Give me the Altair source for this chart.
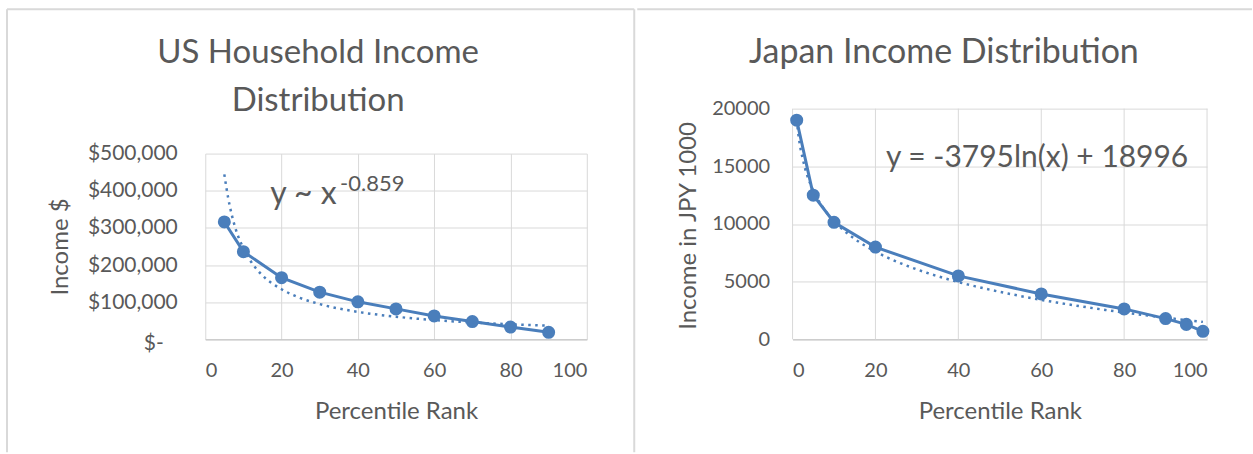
import altair as alt
import pandas as pd

# ---------------- data ----------------
us_pct = [5, 10, 20, 30, 40, 50, 60, 70, 80, 90]
us_income = [316000, 236000, 166000, 127000, 101000, 82000, 63000, 48000, 33000, 19000]

# dotted power trend line (y ~ x^-0.859)
us_trend_pct = [5, 6, 7, 8, 10, 12, 15, 20, 25, 30, 40, 50, 60, 70, 80, 90]
us_trend_income = [444000, 381000, 333000, 296000, 245000, 209000, 172000, 135000,
                   111000, 95000, 74000, 61000, 52000, 45500, 40500, 36700]

jp_pct = [1, 5, 10, 20, 40, 60, 80, 90, 95, 99]
jp_income = [19000, 12500, 10150, 8000, 5500, 3940, 2640, 1800, 1300, 700]

us_ticks_x = [0, 20, 40, 60, 80, 100]
us_ticks_y = [0, 100000, 200000, 300000, 400000, 500000]
jp_ticks_x = [0, 20, 40, 60, 80, 100]
jp_ticks_y = [0, 5000, 10000, 15000, 20000]

us_title = ["US Household Income", "Distribution"]
jp_title = "Japan Income Distribution"
us_eq_main = "y ~ x"
us_eq_sup = "-0.859"
jp_eq = "y = -3795ln(x) + 18996"

# ---------------- styling ----------------
BLUE = "#4A7EBB"
TEXT = "#595959"
GRID = "#D9D9D9"
FRAME = "#D9D9D9"
FONT = "Lato"

W1, H1 = 382, 186
W2 = 415
JP_TOP = -45  # Japan plot area starts 45px above the US plot area

us_df = pd.DataFrame({"pct": us_pct, "income": us_income})
us_tr = pd.DataFrame({"pct": us_trend_pct, "income": us_trend_income})
jp_df = pd.DataFrame({"pct": jp_pct, "income": jp_income})
jp_grid = pd.DataFrame({"pct": jp_ticks_x})
one = pd.DataFrame({"k": [0]})


def xaxis(vals, grid=True):
    return alt.Axis(values=vals, title="Percentile Rank", grid=grid, ticks=False, tickSize=0,
                    labelPadding=37, labelBaseline="alphabetic", domainColor="#BFBFBF",
                    domainWidth=1, labelOverlap=False,
                    titleBaseline="alphabetic", titleY=79)


# ---------------- US panel ----------------
ux = alt.X("pct:Q", scale=alt.Scale(domain=[0, 100], nice=False), axis=xaxis(us_ticks_x))
uy = alt.Y("income:Q", scale=alt.Scale(domain=[0, 500000], nice=False),
           axis=alt.Axis(values=us_ticks_y, title="Income $", grid=True, ticks=False, tickSize=0,
                         domain=False, labelOverlap=False, labelFontSize=21,
                         labelPadding={"condition": {"test": "datum.value === 0", "value": 42}, "value": 28},
                         labelOffset={"condition": {"test": "datum.value === 0", "value": 4}, "value": 0},
                         labelExpr="datum.value == 0 ? '$-' : '$' + format(datum.value, ',')",
                         titleAngle=-90, titleBaseline="alphabetic", titleX=-138, titleY=93))

us_line = alt.Chart(us_df).mark_line(color=BLUE, strokeWidth=3).encode(x=ux, y=uy)
us_pts = alt.Chart(us_df).mark_circle(color=BLUE, size=170, opacity=1).encode(x=ux, y=uy)
us_trend = alt.Chart(us_tr).mark_line(color=BLUE, strokeWidth=2.5, strokeDash=[2.5, 4.5],
                                      interpolate="monotone").encode(x=ux, y=uy)

us_t = alt.Chart(one).mark_text(text=us_title, font=FONT, fontSize=33, color=TEXT, align="center",
                                baseline="alphabetic", lineHeight=48).encode(x=alt.value(113), y=alt.value(-91))
us_e1 = alt.Chart(one).mark_text(text=us_eq_main, font=FONT, fontSize=32, color=TEXT, align="left",
                                 baseline="alphabetic").encode(x=alt.value(65), y=alt.value(50))
us_e2 = alt.Chart(one).mark_text(text=us_eq_sup, font=FONT, fontSize=22, color=TEXT, align="left",
                                 baseline="alphabetic").encode(x=alt.value(135), y=alt.value(37.5))

us_top = alt.Chart(one).mark_rule(color=FRAME, strokeWidth=2).encode(
    x=alt.value(-198.5), x2=alt.value(429.5), y=alt.value(-144.5))
us_left = alt.Chart(one).mark_rule(color=FRAME, strokeWidth=2).encode(
    x=alt.value(-198.5), y=alt.value(-144.5), y2=alt.value(299))
us_div = alt.Chart(one).mark_rule(color=FRAME, strokeWidth=2).encode(
    x=alt.value(429.5), y=alt.value(-144.5), y2=alt.value(299))

left = alt.layer(us_line, us_top, us_left, us_div, us_pts, us_trend, us_t, us_e1, us_e2).properties(
    width=W1, height=H1)

# ---------------- Japan panel ----------------
jx = alt.X("pct:Q", scale=alt.Scale(domain=[0, 100], nice=False), axis=xaxis(jp_ticks_x, grid=False))
jy = alt.Y("income:Q", scale=alt.Scale(domain=[0, 20000], nice=False, range=[H1, JP_TOP]),
           axis=alt.Axis(values=jp_ticks_y, title="Income in JPY 1000", grid=True, ticks=False,
                         tickSize=0, domain=False, labelPadding=23, format="d", labelOverlap=False,
                         titleAngle=-90, titleBaseline="alphabetic", titleX=-97.5, titleY=72))

jp_line = alt.Chart(jp_df).mark_line(color=BLUE, strokeWidth=3).encode(x=jx, y=jy)
jp_vgrid = alt.Chart(jp_grid).mark_rule(color=GRID, strokeWidth=1).encode(
    x=jx, y=alt.value(JP_TOP), y2=alt.value(H1))
jp_pts = alt.Chart(jp_df).mark_circle(color=BLUE, size=170, opacity=1).encode(x=jx, y=jy)
jp_trend = alt.Chart(jp_df).transform_regression(
    "pct", "income", method="log", extent=[1, 99]
).mark_line(color=BLUE, strokeWidth=2.5, strokeDash=[2.5, 4.5]).encode(x=jx, y=jy)

jp_t = alt.Chart(one).mark_text(text=jp_title, font=FONT, fontSize=34, color=TEXT, align="center",
                                baseline="alphabetic").encode(x=alt.value(151.5), y=alt.value(-91))
jp_e = alt.Chart(one).mark_text(text=jp_eq, font=FONT, fontSize=30, color=TEXT, align="left",
                                baseline="alphabetic").encode(x=alt.value(93.5), y=alt.value(13.5))

jp_top = alt.Chart(one).mark_rule(color=FRAME, strokeWidth=2).encode(
    x=alt.value(-155.5), x2=alt.value(460), y=alt.value(-144.5))

right = alt.layer(jp_vgrid, jp_line, jp_top, jp_pts, jp_trend, jp_t, jp_e).properties(width=W2, height=H1)

chart = alt.hconcat(left, right, spacing=0).configure(
    padding={"left": 5.5, "top": 7.5, "right": 0, "bottom": 0}
).configure_view(strokeWidth=0).configure_axis(
    labelFont=FONT, titleFont=FONT, labelColor=TEXT, titleColor=TEXT,
    labelFontSize=20, titleFontSize=24, titleFontWeight="normal",
    gridColor=GRID, gridWidth=1, labelOverlap=False
)

chart.save("out.html", embed_options={"renderer": "svg", "actions": False})
